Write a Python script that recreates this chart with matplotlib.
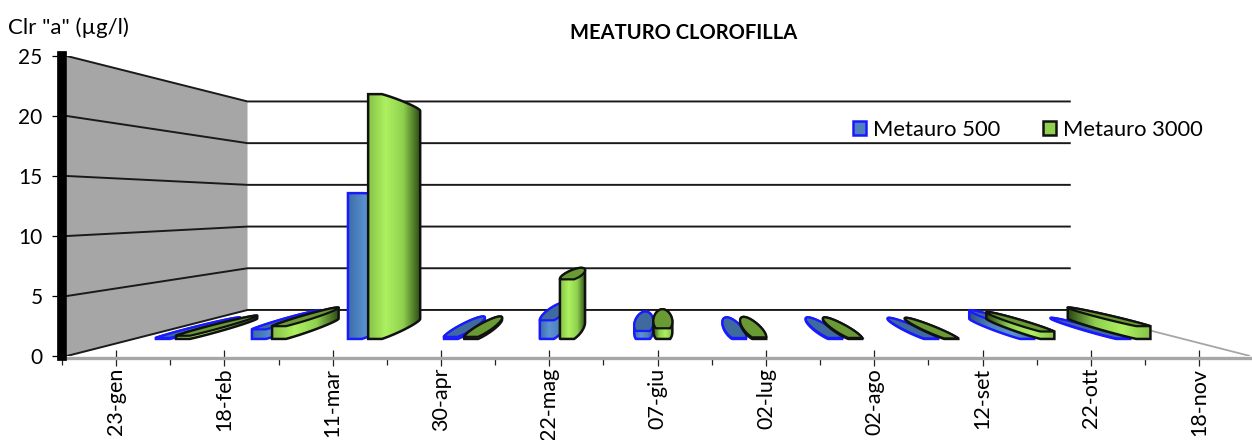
#!/usr/bin/env python3
"""MEATURO CLOROFILLA: 3D-look cylinders in one-point perspective, drawn in data coordinates."""

import numpy as np
import matplotlib
matplotlib.use("Agg")
import matplotlib.pyplot as plt
from matplotlib.colors import LinearSegmentedColormap
from matplotlib.patches import Patch, Polygon

plt.rcParams["font.family"] = ["Lato", "DejaVu Sans"]

categories = ["23-gen", "18-feb", "11-mar", "30-apr", "22-mag", "07-giu",
              "02-lug", "02-ago", "12-set", "22-ott", "18-nov"]
metauro_500 = [0.1, 0.9, 13.7, 0.2, 1.75, 0.75, 0.1, 0.1, 0.05, 0.9, 0.05]
metauro_3000 = [0.3, 1.2, 23.0, 0.2, 5.6, 1.0, 0.15, 0.1, 0.05, 0.7, 1.2]
y_ticks = [0, 5, 10, 15, 20, 25]

# punto di fuga e profondita' della prospettiva (in coordinate dati)
VX, VY = 5.014, 12.58
S_BACK = 0.695
S_CLIP = 0.887
S_MID, S_DEPTH = 0.83, 0.08
X_MIN, X_MAX = -0.5, 10.47
WALL_X = -0.455

BLUE_CMAP = LinearSegmentedColormap.from_list("b", ["#3d6ea8", "#5b93d3", "#4f81bd", "#2f5280"])
GREEN_CMAP = LinearSegmentedColormap.from_list("g", ["#86c348", "#aef060", "#8fd14f", "#2c4a14"])


def project(x, y, s):
    return VX + (np.asarray(x) - VX) * s, VY + (np.asarray(y) - VY) * s


def convex_hull(points):
    pts = sorted(set(map(tuple, points)))

    def half(seq):
        out = []
        for p in seq:
            while len(out) > 1 and ((out[-1][0] - out[-2][0]) * (p[1] - out[-2][1])
                                    - (out[-1][1] - out[-2][1]) * (p[0] - out[-2][0])) <= 0:
                out.pop()
            out.append(p)
        return out[:-1]

    return np.array(half(pts) + half(pts[::-1]))


def draw_cylinder(ax, cx, value, radius, cmap, top_color, edge, zorder):
    t = np.linspace(0, 2 * np.pi, 80)
    xs = cx + radius * np.cos(t)
    # base ellittica tagliata sul lato vicino, come nell'originale
    ss = np.minimum(S_MID + S_DEPTH * np.sin(t), S_CLIP)
    bottom = np.column_stack(project(xs, 0 * xs, ss))
    top = np.column_stack(project(xs, 0 * xs + value, ss))
    hull = convex_hull(np.vstack([bottom, top]))

    body = Polygon(hull, closed=True, facecolor="none", edgecolor=edge, linewidth=1.8,
                   zorder=zorder + 0.2, clip_on=False)
    ax.add_patch(body)
    # a destra del punto di fuga l'ombra passa sul lato sinistro
    ramp = np.linspace(0, 1, 64) if cx < VX else np.linspace(1, 0, 64)
    grad = ax.imshow(ramp.reshape(1, -1), cmap=cmap, aspect="auto",
                     extent=(hull[:, 0].min(), hull[:, 0].max(), hull[:, 1].min(), hull[:, 1].max()),
                     zorder=zorder, clip_on=True)
    grad.set_clip_path(Polygon(hull, closed=True, transform=ax.transData))

    # la faccia superiore si vede solo sotto l'orizzonte
    if value < VY:
        ax.add_patch(Polygon(top, closed=True, facecolor=top_color, edgecolor=edge,
                             linewidth=1.6, zorder=zorder + 0.3, clip_on=False))


fig = plt.figure(figsize=(12.52, 4.40), dpi=100)
ax = fig.add_axes([62 / 1252, (440 - 356) / 440, (1250 - 62) / 1252, 300 / 440])
ax.patch.set_alpha(0)

# parete sinistra grigia e griglia
wall_x, wall_top = project([WALL_X, WALL_X], [0, 25], S_BACK)
ax.add_patch(Polygon([(WALL_X, 0), (WALL_X, 25), (wall_x[1], wall_top[1]), (wall_x[0], wall_top[0])],
                     closed=True, facecolor="#a6a6a6", edgecolor="none", zorder=1))
for tick in y_ticks:
    bx, by = project([WALL_X, X_MAX], [tick, tick], S_BACK)
    ax.plot([WALL_X, bx[0], bx[1]], [tick, by[0], by[1]], color="#1a1a1a", lw=1.4, zorder=2,
            solid_joinstyle="miter")

# bordo destro del pavimento
fx, fy = project([X_MAX, X_MAX], [0, 0], S_BACK)
ax.plot([fx[0], X_MAX], [fy[0], 0], color="#a6a6a6", lw=1.3, zorder=2)

group_offset = -0.05
radius = 0.105
for i, (v500, v3000) in enumerate(zip(metauro_500, metauro_3000)):
    draw_cylinder(ax, i + group_offset - radius, v500, radius, BLUE_CMAP, "#3f6a9e", "#1a1aff", 3 + i * 0.01)
    draw_cylinder(ax, i + group_offset + radius, v3000, radius, GREEN_CMAP, "#6a9a34", "#111111", 4 + i * 0.01)

ax.set_xlim(X_MIN, X_MAX)
ax.set_ylim(0, 25)
ax.set_yticks(y_ticks)
ax.set_xticks(range(len(categories)))
ax.set_xticklabels(categories)
ax.set_xticks(np.arange(-0.5, X_MAX, 1), minor=True)

for side in ["top", "right"]:
    ax.spines[side].set_visible(False)
ax.spines["left"].set_linewidth(7)
ax.spines["left"].set_color("black")
ax.spines["left"].set_zorder(6)
ax.spines["bottom"].set_position(("data", -0.17))
ax.spines["bottom"].set_linewidth(2.4)
ax.spines["bottom"].set_color("#a6a6a6")

ax.tick_params(axis="y", labelsize=15, length=7, width=0.9, pad=7, direction="out")
ax.tick_params(axis="x", which="major", length=12, width=0.9, direction="inout", pad=1,
               color="#222222", labelsize=15.5, labelrotation=90)
ax.tick_params(axis="x", which="minor", length=5, width=0.9, direction="out", color="#222222")

handles = [Patch(facecolor="#4f81bd", edgecolor="#1a1aff", linewidth=1.8, label="Metauro 500"),
           Patch(facecolor="#8fd14f", edgecolor="#111111", linewidth=1.8, label="Metauro 3000")]
fig.legend(handles=handles, loc="center left", bbox_to_anchor=(853 / 1252, 1 - 130 / 440), ncol=2,
           frameon=False, fontsize=15.8, handlelength=0.6, handleheight=0.6, handletextpad=0.32,
           columnspacing=1.93, borderpad=0, borderaxespad=0)

fig.text(684 / 1252, 1 - 33 / 440, "MEATURO CLOROFILLA", ha="center", va="center",
         fontsize=14.5, fontweight="bold")
fig.text(8 / 1252, 1 - 28 / 440, 'Clr "a" (µg/l)', ha="left", va="center", fontsize=16)

fig.savefig("out.png", dpi=100)
